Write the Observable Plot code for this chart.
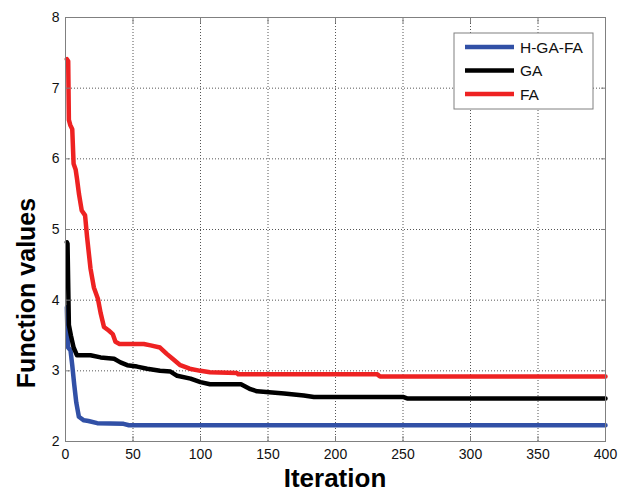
<!DOCTYPE html>
<html><head><meta charset="utf-8">
<script src="https://cdn.jsdelivr.net/npm/d3@7"></script>
<script src="https://cdn.jsdelivr.net/npm/@observablehq/plot@0.6"></script>
<style>body{margin:0;background:#fff} #chart{width:624px;height:494px}</style>
</head><body><div id="chart"></div>
<script>
// Data
const seriesNames = ["H-GA-FA", "GA", "FA"];
const seriesColors = ["#3150a6", "#000000", "#ee2222"];

const iterHGAFA = [1, 1.5, 2, 3.7, 5, 6.5, 8, 9.9, 13.6, 17, 23.5, 43, 47, 400];
const valHGAFA  = [3.9, 3.5, 3.33, 3.29, 3.08, 2.8, 2.55, 2.35, 2.30, 2.29, 2.26, 2.25, 2.23, 2.23];

const iterGA = [1, 1.5, 2.5, 4, 6, 8.5, 18.5, 26, 36, 40.7, 45.7, 53, 60.5, 70, 77.8, 82.7, 92.6, 100, 107, 130, 137, 142, 162, 176.5, 184, 250, 253, 400];
const valGA  = [4.82, 4.8, 3.65, 3.5, 3.33, 3.22, 3.22, 3.19, 3.17, 3.12, 3.08, 3.06, 3.03, 3.0, 2.99, 2.93, 2.89, 2.84, 2.81, 2.81, 2.74, 2.71, 2.68, 2.65, 2.63, 2.63, 2.61, 2.61];

const iterFA = [1, 2, 2.5, 3.5, 5, 6, 7.5, 8.5, 10, 12, 14.5, 16, 18.5, 21, 24, 26, 28.5, 32, 35, 37, 40, 58, 63, 70, 75, 80, 85, 92, 100, 107, 127, 128, 231, 233, 400];
const valFA  = [7.41, 7.38, 6.55, 6.48, 6.42, 5.93, 5.85, 5.72, 5.5, 5.27, 5.2, 4.89, 4.45, 4.18, 4.02, 3.82, 3.62, 3.57, 3.52, 3.41, 3.38, 3.38, 3.36, 3.33, 3.24, 3.16, 3.08, 3.03, 3.0, 2.98, 2.97, 2.95, 2.95, 2.92, 2.92];

const xTicks = [0, 50, 100, 150, 200, 250, 300, 350, 400];
const yTicks = [2, 3, 4, 5, 6, 7, 8];
const xLabel = "Iteration";
const yLabel = "Function values";

const toRows = (its, vals, name) => its.map((x, i) => ({iter: x, value: vals[i], series: name}));
const rows = [
  toRows(iterHGAFA, valHGAFA, seriesNames[0]),
  toRows(iterGA, valGA, seriesNames[1]),
  toRows(iterFA, valFA, seriesNames[2])
];

const gridStyle = {stroke: "#555", strokeOpacity: 1, strokeDasharray: "1,2", strokeWidth: 1};
const fmt = d3.format("d");

const plot = Plot.plot({
  width: 624, height: 494,
  marginLeft: 65, marginRight: 19, marginTop: 17, marginBottom: 53,
  style: {fontFamily: "'Liberation Sans', Arial, sans-serif", fontSize: "14px", color: "#111", background: "#fff", overflow: "visible"},
  x: {domain: [0, 400], label: null},
  y: {domain: [2, 8], label: null},
  marks: [
    Plot.gridX(xTicks, gridStyle),
    Plot.gridY(yTicks, gridStyle),
    ...rows.map((r, i) => Plot.line(r, {x: "iter", y: "value", stroke: seriesColors[i], strokeWidth: 4.5})),
    Plot.frame({stroke: "#808080", strokeWidth: 1}),
    Plot.axisX(xTicks, {tickSize: 0, tickPadding: 8, fontSize: 14, tickFormat: fmt}),
    Plot.axisY(yTicks, {tickSize: 0, tickPadding: 6, fontSize: 14, tickFormat: fmt}),
    Plot.axisX(xTicks, {tickSize: -5, text: null, stroke: "#808080"}),
    Plot.axisX(xTicks, {anchor: "top", tickSize: -5, text: null, stroke: "#808080"}),
    Plot.axisY(yTicks, {tickSize: -5, text: null, stroke: "#808080"}),
    Plot.axisY(yTicks, {anchor: "right", tickSize: -5, text: null, stroke: "#808080"})
  ]
});

const svg = d3.select(plot);
const font = "'Liberation Sans', Arial, sans-serif";
svg.append("text")
  .attr("x", 335).attr("y", 487)
  .attr("text-anchor", "middle")
  .attr("font-size", 26).attr("font-weight", "bold")
  .attr("font-family", font)
  .attr("fill", "#000")
  .text(xLabel);
svg.append("text")
  .attr("transform", "translate(35,293) rotate(-90)")
  .attr("text-anchor", "middle")
  .attr("font-size", 25).attr("font-weight", "bold")
  .attr("font-family", font)
  .attr("fill", "#000")
  .text(yLabel);

// Legend
const lg = svg.append("g").attr("transform", "translate(454,33)");
lg.append("rect").attr("width", 139).attr("height", 76)
  .attr("fill", "#fff").attr("stroke", "#808080").attr("stroke-width", 1);
seriesNames.forEach((name, i) => {
  const y = 14 + i * 23.5;
  lg.append("line").attr("x1", 11).attr("x2", 60).attr("y1", y).attr("y2", y)
    .attr("stroke", seriesColors[i]).attr("stroke-width", 4.5);
  lg.append("text").attr("x", 66).attr("y", y + 5.5)
    .attr("text-anchor", "start")
    .attr("font-size", 15.5).attr("font-family", font)
    .attr("fill", "#111").text(name);
});

document.getElementById("chart").appendChild(plot);
</script>
</body></html>
